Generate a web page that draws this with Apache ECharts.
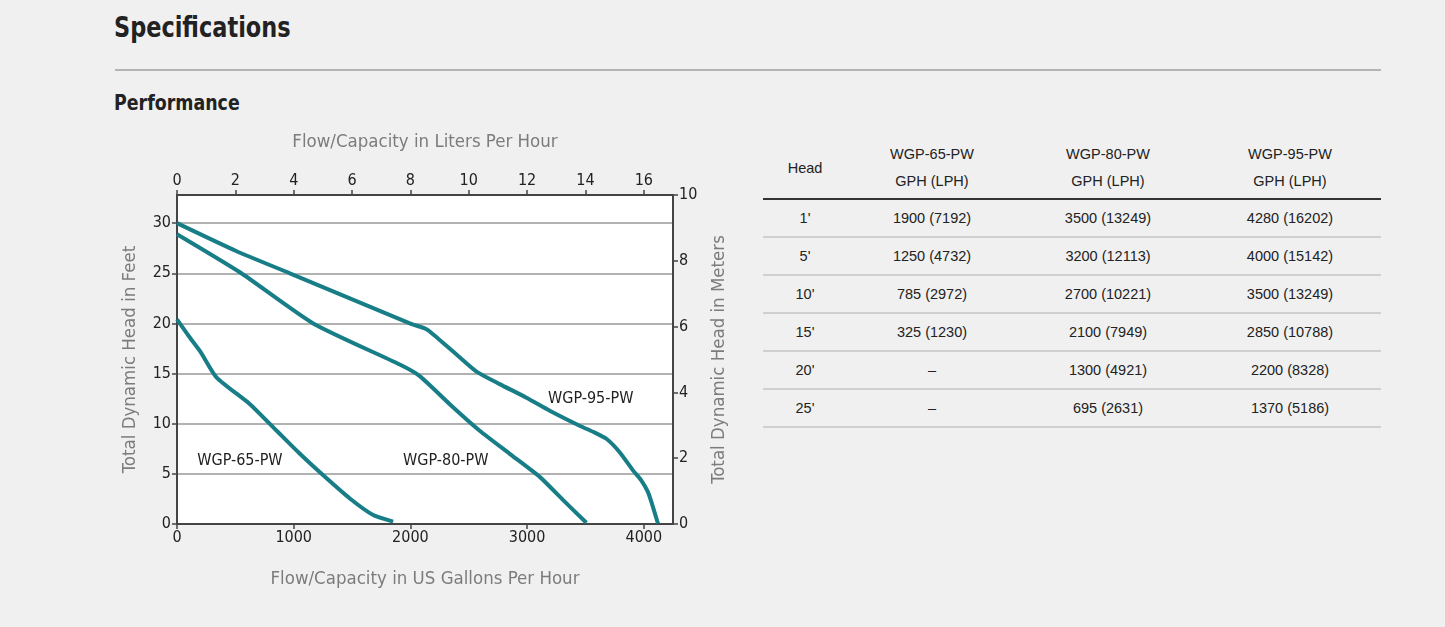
<!DOCTYPE html>
<html>
<head>
<meta charset="utf-8">
<script src="https://cdn.jsdelivr.net/npm/echarts@6/dist/echarts.min.js"></script>
<style>
  html, body { margin: 0; padding: 0; background: #f0f0f0; width: 1445px; height: 627px; overflow: hidden; }
  body { position: relative; font-family: "DejaVu Sans Condensed", "Liberation Sans", sans-serif; color: #222; }
  #title { position: absolute; left: 114px; top: 11px; font-size: 28px; font-weight: bold; transform: scaleX(0.89); transform-origin: 0 0; }
  #rule { position: absolute; left: 115px; top: 69px; width: 1266px; height: 2px; background: #b4b4b4; }
  #sub { position: absolute; left: 114px; top: 90px; font-size: 22px; font-weight: bold; transform: scaleX(0.88); transform-origin: 0 0; }
  #chart { position: absolute; left: 0; top: 0; width: 760px; height: 627px; }
  #tbl { position: absolute; left: 763px; top: 138px; border-collapse: collapse; font-family: "Liberation Sans", Arial, sans-serif; font-size: 14.5px; color: #222; }
  #tbl th { font-weight: normal; line-height: 27px; height: 60px; padding: 0; text-align: center; border-bottom: 2px solid #333; }
  #tbl td { height: 36px; padding: 0; text-align: center; border-bottom: 2px solid #cfcfcf; }
</style>
</head>
<body>
<div id="title">Specifications</div>
<div id="rule"></div>
<div id="sub">Performance</div>
<div id="chart"></div>
<table id="tbl">
  <colgroup><col style="width:84px"><col style="width:170px"><col style="width:182px"><col style="width:182px"></colgroup>
  <thead><tr id="hdr"></tr></thead>
  <tbody id="tbody"></tbody>
</table>
<script>
// ---- Chart data (flow in US gallons per hour, head in feet) ----
const wgp65Flow = [0, 100, 200, 340, 625, 854, 1053, 1253, 1481, 1681, 1852];
const wgp65Head = [20.4, 18.75, 17.2, 14.6, 11.95, 9.3, 7.0, 4.85, 2.54, 0.89, 0.23];

const wgp80Flow = [0, 539, 1167, 1909, 2080, 2337, 2594, 2851, 3108, 3307, 3508];
const wgp80Head = [28.9, 25.1, 20.0, 15.9, 14.75, 11.95, 9.3, 7.0, 4.7, 2.4, 0.13];

const wgp95Flow = [0, 511, 967, 1995, 2123, 2166, 2395, 2566, 2765, 2994, 3194, 3450, 3565, 3679, 3793, 3907, 3978, 4035, 4078, 4121];
const wgp95Head = [30.0, 27.2, 25.0, 20.0, 19.5, 19.2, 16.9, 15.2, 13.95, 12.6, 11.3, 9.8, 9.2, 8.5, 7.16, 5.35, 4.36, 3.2, 1.71, 0.05];

const seriesNames = ['WGP-65-PW', 'WGP-80-PW', 'WGP-95-PW'];
// label anchor points (flow, head)
const labelFlow = [539, 2303, 3545];
const labelHead = [6.3, 6.3, 12.5];

// ---- Table data ----
const tableHead = ['Head', 'WGP-65-PW<br>GPH (LPH)', 'WGP-80-PW<br>GPH (LPH)', 'WGP-95-PW<br>GPH (LPH)'];
const headFeet = ["1'", "5'", "10'", "15'", "20'", "25'"];
const gph65 = ['1900 (7192)', '1250 (4732)', '785 (2972)', '325 (1230)', '–', '–'];
const gph80 = ['3500 (13249)', '3200 (12113)', '2700 (10221)', '2100 (7949)', '1300 (4921)', '695 (2631)'];
const gph95 = ['4280 (16202)', '4000 (15142)', '3500 (13249)', '2850 (10788)', '2200 (8328)', '1370 (5186)'];

// build table
document.getElementById('hdr').innerHTML = tableHead.map(h => '<th>' + h + '</th>').join('');
document.getElementById('tbody').innerHTML = headFeet.map((h, i) =>
  '<tr><td>' + h + '</td><td>' + gph65[i] + '</td><td>' + gph80[i] + '</td><td>' + gph95[i] + '</td></tr>').join('');

const FONT = '"DejaVu Sans Condensed", "Liberation Sans", sans-serif';
const LINE = '#177d87';
const AX = '#444';
const TITLE_C = '#7c7c7c';

function zip(a, b) { return a.map((v, i) => [v, b[i]]); }
const flows = [wgp65Flow, wgp80Flow, wgp95Flow];
const heads = [wgp65Head, wgp80Head, wgp95Head];

const chart = echarts.init(document.getElementById('chart'), null, { renderer: 'canvas' });

const axisCommon = {
  axisLine: { show: true, onZero: false, lineStyle: { color: AX, width: 2 } },
  axisTick: { show: true, inside: false, length: 5, lineStyle: { color: AX, width: 1.5 } },
  axisLabel: { color: '#222', fontSize: 16, fontFamily: FONT, margin: 6, showMaxLabel: false, formatter: v => String(v) },
  nameLocation: 'middle',
  nameTextStyle: { color: TITLE_C, fontSize: 18.5, fontFamily: FONT },
  splitLine: { show: false }
};

chart.setOption({
  backgroundColor: 'transparent',
  animation: false,
  grid: { left: 177, right: 760 - 673, top: 195, bottom: 627 - 524, backgroundColor: '#fff', show: true, borderWidth: 0 },
  xAxis: [
    Object.assign({}, axisCommon, {
      type: 'value', position: 'bottom', min: 0, max: 4250, interval: 1000,
      name: 'Flow/Capacity in US Gallons Per Hour', nameGap: 46
    }),
    Object.assign({}, axisCommon, {
      type: 'value', position: 'top', min: 0, max: 17, interval: 2,
      name: 'Flow/Capacity in Liters Per Hour', nameGap: 43
    })
  ],
  yAxis: [
    Object.assign({}, axisCommon, {
      type: 'value', position: 'left', min: 0, max: 32.808, interval: 5,
      name: 'Total Dynamic Head in Feet', nameGap: 37,
      splitLine: { show: true, lineStyle: { color: '#999', width: 1.5 } }
    }),
    Object.assign({}, axisCommon, {
      type: 'value', position: 'right', min: 0, max: 10, interval: 2,
      name: 'Total Dynamic Head in Meters', nameGap: 37,
      axisLabel: Object.assign({}, axisCommon.axisLabel, { showMaxLabel: true })
    })
  ],
  series: seriesNames.map((n, k) => ({
    name: n,
    type: 'line',
    xAxisIndex: 0,
    yAxisIndex: 0,
    smooth: 0.2,
    symbol: 'none',
    data: zip(flows[k], heads[k]),
    lineStyle: { color: LINE, width: 4 },
    z: 3,
    markPoint: {
      symbol: 'circle', symbolSize: 0,
      label: { show: true, position: 'inside', formatter: n, color: '#222', fontSize: 16, fontFamily: FONT },
      data: [{ coord: [labelFlow[k], labelHead[k]] }]
    }
  }))
});
</script>
</body>
</html>
